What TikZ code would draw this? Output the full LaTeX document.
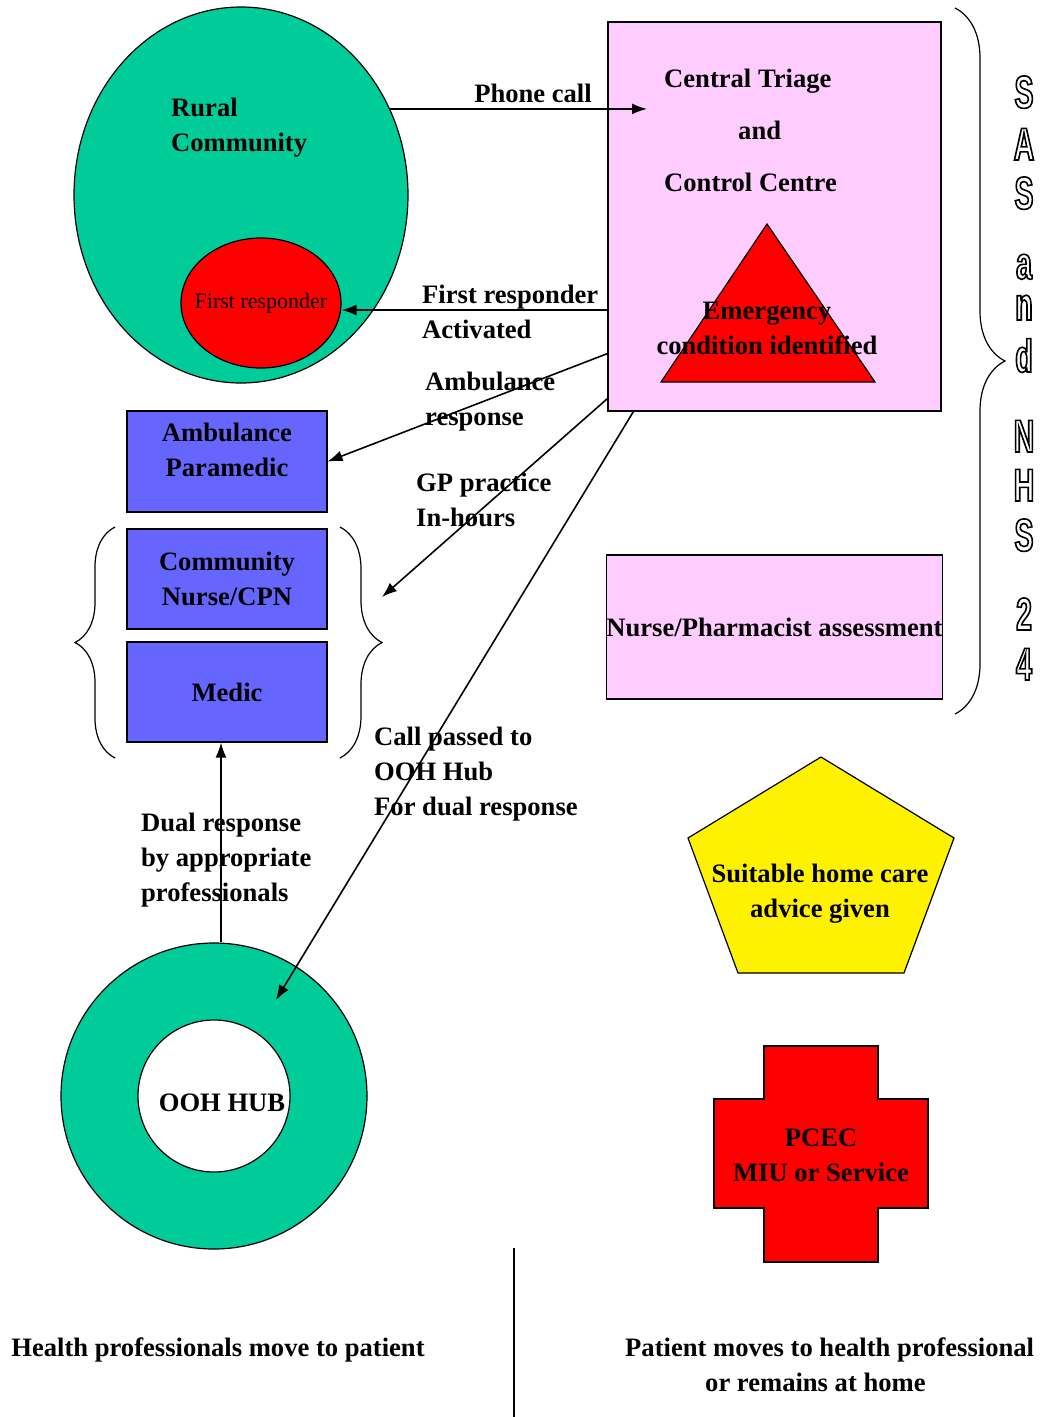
\documentclass[tikz,border=0pt]{standalone}
\usepackage{fontspec}
\setmainfont{Liberation Serif}
\newfontfamily\sasfont[FakeStretch=0.62]{Liberation Sans Bold}
\usetikzlibrary{shapes,arrows,arrows.meta,positioning,calc,decorations.pathreplacing}

\definecolor{ruralgreen}{RGB}{0,204,153}
\definecolor{triagepink}{RGB}{255,204,255}
\definecolor{crewblue}{RGB}{102,102,255}

% hollow letters for the side caption
\newcommand{\hollow}[1]{\special{pdf:literal direct 1 Tr 1.6 w}#1\special{pdf:literal direct 0 Tr}}

\tikzset{
  txt/.style={font=\bfseries\fontsize{26.6}{35}\selectfont, inner sep=0pt},
  edge/.style={line width=1.2pt},
  crew/.style={draw, edge, fill=crewblue, minimum width=200pt, minimum height=100pt, txt, align=center},
  pinkbox/.style={draw, edge, fill=triagepink, minimum width=333pt},
  link/.style={->, line width=1.6pt},
  curly/.style={decorate, decoration={brace, amplitude=#1}, edge},
  sas/.style={font=\sasfont\fontsize{46}{46}\selectfont, inner sep=0pt, anchor=base, text height=22pt, text depth=0pt}
}

\begin{document}
\begin{tikzpicture}[x=1pt, y=-1pt, >={Latex[length=15pt,width=11pt]}]
  \useasboundingbox (0,0) rectangle (1042,1417);

  % Rural community
  \node[ellipse, draw, edge, fill=ruralgreen, minimum width=334pt, minimum height=376pt] (rural) at (241,195) {};
  \node[txt, align=left, anchor=west] (ruraltxt) at (171,127.5) {Rural\\Community};
  \node[ellipse, draw, edge, fill=red, minimum width=160pt, minimum height=130pt, inner sep=0pt,
        font=\fontsize{22}{26}\selectfont] (responder) at (261,303) {\makebox[0pt]{First responder}};

  % Triage centre
  \node[pinkbox, minimum height=389pt] (triage) at (774.5,216.5) {};
  \node[txt, align=left, anchor=north west] (triagetxt) at (664,69) {Central Triage\\[17pt]\hspace*{74pt}and\\[17pt]Control Centre};
  \draw[edge, fill=red] (767,224) -- (875,382) -- (661,382) -- cycle;
  \node[txt, align=center] (emerg) at (767,328) {Emergency\\condition identified};

  \node[pinkbox, minimum height=144pt, txt] (nurse) at (774.5,627) {Nurse/Pharmacist assessment};

  % Responders
  \node[crew, minimum height=101pt, text depth=24pt] (paramedic) at (227,461.5) {Ambulance\\Paramedic};
  \node[crew] (cpn) at (227,579) {Community\\Nurse/CPN};
  \node[crew] (medic) at (227,692) {Medic};
  \draw[curly=40pt] (115,758) -- (115,527);
  \draw[curly=42pt] (340,527) -- (340,758);

  % OOH hub
  \node[circle, draw, edge, fill=ruralgreen, minimum size=306pt] (ring) at (214,1096) {};
  \node[circle, draw, edge, fill=white, minimum size=152pt, txt, text height=30pt, text depth=0pt] (hub) at (214,1096) {\hspace*{16pt}OOH HUB};

  % Home care and PCEC
  \draw[edge, fill=yellow] (821,757) -- (954,838) -- (904,973) -- (738,973) -- (688,838) -- cycle;
  \node[txt, align=center] (advice) at (820,894) {Suitable home care\\advice given};
  \draw[edge, fill=red] (764,1046) -- (878,1046) -- (878,1099) -- (928,1099) -- (928,1208) -- (878,1208)
    -- (878,1262) -- (764,1262) -- (764,1208) -- (714,1208) -- (714,1099) -- (764,1099) -- cycle;
  \node[txt, align=center] (pcec) at (821,1155) {PCEC\\MIU or Service};

  % Arrows
  \coordinate (callin) at (647,108);
  \coordinate (gptip) at (382,597);
  \coordinate (ringtip) at (276,1000);
  \draw[link] (rural.30) -- (rural.30 -| callin);
  \node[txt] (phone) at (533,93) {Phone call};
  \draw[link] (triage.west |- 0,310) -- (responder.east |- 0,310);
  \node[txt, align=left, anchor=west] (fralbl) at (422,312) {First responder\\Activated};
  \draw[link] ([yshift=58pt]triage.south west) -- (paramedic.east);
  \node[txt, align=left, anchor=west] (amblbl) at (425,401.5) {Ambulance\\response};
  \draw[link] ([yshift=13pt]triage.south west) -- (gptip);
  \node[txt, align=left, anchor=west] (gplbl) at (416,499.5) {GP practice\\In-hours};
  \draw[link] ([xshift=26pt]triage.south west) -- (ringtip);
  \node[txt, align=left, anchor=west] (oohlbl) at (374,774) {Call passed to\\OOH Hub\\For dual response};
  \draw[link] (ring.north -| 221,0) -- (medic.south -| 221,0);
  \node[txt, align=left, anchor=west] (duallbl) at (141,860) {Dual response\\by appropriate\\professionals};

  % Bottom captions
  \draw[edge] (514,1248) -- (514,1417);
  \node[txt] (movepro) at (218,1350) {Health professionals move to patient};
  \node[txt, align=left, anchor=west] (movepat) at (625,1364.5) {Patient moves to health professional\\\hspace*{80pt}or remains at home};

  % Side caption
  \draw[curly=50pt] (955,8) -- (955,714);
  \foreach \ch/\yy in {S/108, A/160, S/209, a/279, n/320, d/372, N/452, H/501, S/551, 2/630, 4/680}
    \node[sas] (sas\yy) at (1024,\yy) {\hollow{\ch}};
\end{tikzpicture}
\end{document}
